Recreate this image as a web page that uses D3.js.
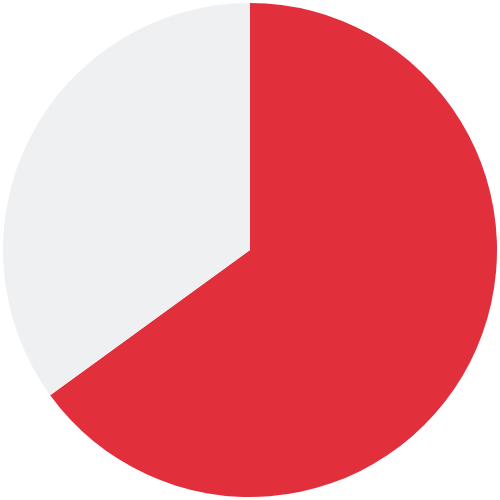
<!DOCTYPE html>
<html>
<head>
<meta charset="utf-8">
<script src="https://cdn.jsdelivr.net/npm/d3@7"></script>
<style>html,body{margin:0;padding:0;background:#fff;}</style>
</head>
<body>
<svg id="chart" width="500" height="500"></svg>
<script>
const categories = ["A", "B"];
const values = [65, 35];
const colors = ["#e12f3b", "#eff0f2"];

const svg = d3.select("#chart");
const g = svg.append("g").attr("transform", "translate(250,250)");
const pie = d3.pie().sort(null).value(d => d.value);
const arc = d3.arc().innerRadius(0).outerRadius(247);
const data = categories.map((c, i) => ({ name: c, value: values[i] }));
const color = d3.scaleOrdinal().domain(categories).range(colors);
g.selectAll("path").data(pie(data)).join("path")
  .attr("d", arc)
  .attr("fill", d => color(d.data.name));
</script>
</body>
</html>
